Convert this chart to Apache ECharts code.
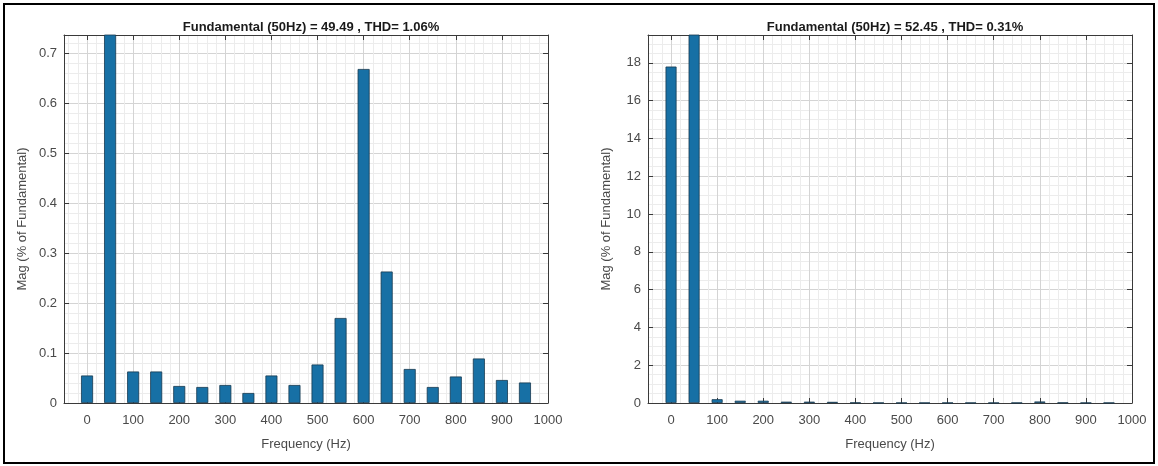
<!DOCTYPE html>
<html>
<head>
<meta charset="utf-8">
<script src="https://cdn.jsdelivr.net/npm/echarts@6/dist/echarts.min.js"></script>
<style>
html,body{margin:0;padding:0;background:#fff;}
#c{width:1158px;height:466px;}
</style>
</head>
<body>
<div id="c"></div>
<script>
// Data
const freqs = [0,50,100,150,200,250,300,350,400,450,500,550,600,650,700,750,800,850,900,950];
const magLeft = [0.055,100,0.063,0.063,0.034,0.032,0.036,0.020,0.055,0.036,0.077,0.170,0.668,0.263,0.068,0.032,0.053,0.089,0.046,0.041];
const magRight = [17.8,100,0.20,0.12,0.12,0.07,0.07,0.06,0.02,0.01,0.01,0.01,0.01,0.01,0.01,0.01,0.08,0.02,0.01,0.01];
const titles = ['Fundamental (50Hz) = 49.49 , THD= 1.06%', 'Fundamental (50Hz) = 52.45 , THD= 0.31%'];
const xTickLabels = ['0','100','200','300','400','500','600','700','800','900','1000'];
const yMaxLeft = 0.736, yMaxRight = 19.47;

const FONT = '"Liberation Sans", Arial, sans-serif';
const frameColor = '#3a3a3a';
const labelColor = '#4a4a4a';

const grids = [
  {left: 64, top: 35, width: 484, height: 368},
  {left: 648, top: 35, width: 484, height: 368}
];

function xAxes(gi){
  const base = {
    type: 'value', gridIndex: gi, min: -50, max: 1000, splitNumber: 10,
    axisLine: {show: true, onZero: false, lineStyle: {color: frameColor, width: 1}},
    axisTick: {show: true, inside: true, length: 5, lineStyle: {color: frameColor}},
  };
  return [
    Object.assign({}, base, {
      position: 'bottom',
      name: 'Frequency (Hz)', nameLocation: 'middle', nameGap: 35,
      nameTextStyle: {fontFamily: FONT, fontSize: 13, color: labelColor},
      axisLabel: {fontFamily: FONT, fontSize: 13, color: labelColor, margin: 11,
        formatter: v => xTickLabels.indexOf(String(v)) >= 0 ? String(v) : ''},
      splitLine: {show: true, lineStyle: {color: '#d4d4d4', width: 1}},
      minorTick: {show: false, splitNumber: 5},
      minorSplitLine: {show: true, lineStyle: {color: '#ececec', width: 1}}
    }),
    Object.assign({}, base, {
      position: 'top', axisLabel: {show: false}, splitLine: {show: false}
    })
  ];
}

function yAxes(gi, max, interval, minorN){
  const base = {
    type: 'value', gridIndex: gi, min: 0, max: max, interval: interval,
    axisLine: {show: true, onZero: false, lineStyle: {color: frameColor, width: 1}},
    axisTick: {show: true, inside: true, length: 5, lineStyle: {color: frameColor}},
  };
  return [
    Object.assign({}, base, {
      position: 'left',
      name: 'Mag (% of Fundamental)', nameLocation: 'middle', nameGap: 35,
      nameTextStyle: {fontFamily: FONT, fontSize: 13, color: labelColor},
      axisLabel: {fontFamily: FONT, fontSize: 13, color: labelColor, margin: 7, showMaxLabel: false},
      splitLine: {show: true, lineStyle: {color: '#d4d4d4', width: 1}},
      minorTick: {show: false, splitNumber: minorN},
      minorSplitLine: {show: true, lineStyle: {color: '#ececec', width: 1}}
    }),
    Object.assign({}, base, {
      position: 'right', axisLabel: {show: false}, splitLine: {show: false}
    })
  ];
}

const barStyle = {color: '#1770a5', borderColor: '#17384f', borderWidth: 0.8};

const option = {
  backgroundColor: '#fff',
  animation: false,
  title: [
    {text: titles[0], left: 306, top: 16, textAlign: 'center',
     textStyle: {fontFamily: FONT, fontSize: 13, fontWeight: 'bold', color: '#1a1a1a'}},
    {text: titles[1], left: 890, top: 16, textAlign: 'center',
     textStyle: {fontFamily: FONT, fontSize: 13, fontWeight: 'bold', color: '#1a1a1a'}}
  ],
  grid: grids,
  xAxis: [...xAxes(0), ...xAxes(1)],
  yAxis: [...yAxes(0, yMaxLeft, 0.1, 5), ...yAxes(1, yMaxRight, 2, 4)],
  series: [
    {type: 'bar', xAxisIndex: 0, yAxisIndex: 0, barWidth: 12, clip: true,
     itemStyle: barStyle, data: freqs.map((f, i) => [f, magLeft[i]])},
    {type: 'bar', xAxisIndex: 2, yAxisIndex: 2, barWidth: 11, clip: true,
     itemStyle: barStyle, data: freqs.map((f, i) => [f, magRight[i]])}
  ],
  graphic: [
    {type: 'rect', shape: {x: 4, y: 4, width: 1150, height: 459},
     style: {fill: 'none', stroke: '#000', lineWidth: 2}, silent: true, z: 100}
  ]
};

const chart = echarts.init(document.getElementById('c'), null, {renderer: 'canvas'});
chart.setOption(option);
</script>
</body>
</html>
